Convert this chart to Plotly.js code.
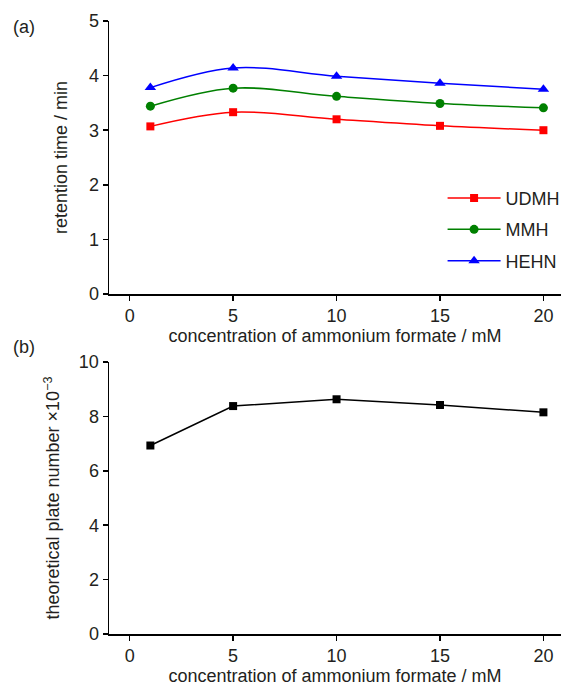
<!DOCTYPE html>
<html>
<head>
<meta charset="utf-8">
<script src="https://cdn.plot.ly/plotly-3.0.1.min.js"></script>
<style>html,body{margin:0;padding:0;background:#fff;}#chart{width:561px;height:686px;}</style>
</head>
<body>
<div id="chart"></div>
<script>
const concentration = [1, 5, 10, 15, 20];
const udmh = [3.07, 3.33, 3.20, 3.08, 3.00];
const mmh = [3.44, 3.77, 3.62, 3.49, 3.41];
const hehn = [3.78, 4.14, 3.99, 3.86, 3.75];
const plateNumber = [6.93, 8.38, 8.63, 8.42, 8.15];
const xTicks = [0, 5, 10, 15, 20];
const yTicksA = [0, 1, 2, 3, 4, 5];
const yTicksB = [0, 2, 4, 6, 8, 10];

const FONT = 'Liberation Sans, Arial, sans-serif';
const TXT = '#231f20';
const FS = 18;

const traces = [
  {x: concentration, y: udmh, name: 'UDMH', legendgroup: 'g1', type: 'scatter', mode: 'lines+markers',
   line: {color: '#ff0000', width: 1.5, shape: 'spline'},
   marker: {symbol: 'square', size: 8, color: '#ff0000'}, xaxis: 'x', yaxis: 'y'},
  {x: concentration, y: mmh, name: 'MMH', legendgroup: 'g2', type: 'scatter', mode: 'lines+markers',
   line: {color: '#008000', width: 1.5, shape: 'spline'},
   marker: {symbol: 'circle', size: 9, color: '#008000'}, xaxis: 'x', yaxis: 'y'},
  {x: concentration, y: hehn, name: 'HEHN', legendgroup: 'g3', type: 'scatter', mode: 'lines+markers',
   line: {color: '#0000ff', width: 1.5, shape: 'spline'},
   marker: {symbol: 'triangle-up', size: 10, color: '#0000ff'}, xaxis: 'x', yaxis: 'y'},
  {x: concentration, y: plateNumber, name: 'plate', type: 'scatter', mode: 'lines+markers',
   showlegend: false,
   line: {color: '#000000', width: 1.5},
   marker: {symbol: 'square', size: 8, color: '#000000'}, xaxis: 'x2', yaxis: 'y2'}
];

const axisCommon = {
  showgrid: false, zeroline: false, showline: true, linecolor: '#000', linewidth: 1.5,
  ticks: 'outside', ticklen: 5, tickwidth: 1.5, tickcolor: '#000',
  tickfont: {family: FONT, size: FS, color: TXT}
};

const layout = {
  width: 561, height: 686,
  margin: {l: 109, r: 0, t: 21, b: 52, autoexpand: false},
  paper_bgcolor: '#fff', plot_bgcolor: '#fff',
  font: {family: FONT, color: TXT},
  showlegend: true,
  legend: {x: 0.738, y: 0.741, xanchor: 'left', yanchor: 'top', itemwidth: 53,
    font: {family: FONT, size: FS, color: TXT}, bgcolor: 'rgba(0,0,0,0)', tracegroupgap: 5},
  xaxis: Object.assign({}, axisCommon, {range: [-1, 20.85], tickvals: xTicks, anchor: 'y', domain: [0, 1],
    title: {text: 'concentration of ammonium formate / mM', font: {family: FONT, size: FS, color: TXT}, standoff: 3}}),
  yaxis: Object.assign({}, axisCommon, {range: [0, 5], tickvals: yTicksA, anchor: 'x', domain: [0.5546, 1],
    title: {text: 'retention time / min', font: {family: FONT, size: FS, color: TXT}, standoff: 16}}),
  xaxis2: Object.assign({}, axisCommon, {range: [-1, 20.85], tickvals: xTicks, anchor: 'y2', domain: [0, 1],
    title: {text: 'concentration of ammonium formate / mM', font: {family: FONT, size: FS, color: TXT}, standoff: 3}}),
  yaxis2: Object.assign({}, axisCommon, {range: [0, 10], tickvals: yTicksB, anchor: 'x2', domain: [0, 0.4437],
    title: {text: 'theoretical plate number \u00d710<sup>\u22123</sup>', font: {family: FONT, size: FS, color: TXT}, standoff: 14}}),
  annotations: [
    {text: '(a)', xref: 'paper', yref: 'paper', x: -0.216, y: 0.99, xanchor: 'left', yanchor: 'middle',
     showarrow: false, font: {family: FONT, size: FS, color: TXT}},
    {text: '(b)', xref: 'paper', yref: 'paper', x: -0.216, y: 0.468, xanchor: 'left', yanchor: 'middle',
     showarrow: false, font: {family: FONT, size: FS, color: TXT}}
  ]
};

Plotly.newPlot('chart', traces, layout, {displayModeBar: false, staticPlot: true});
</script>
</body>
</html>
